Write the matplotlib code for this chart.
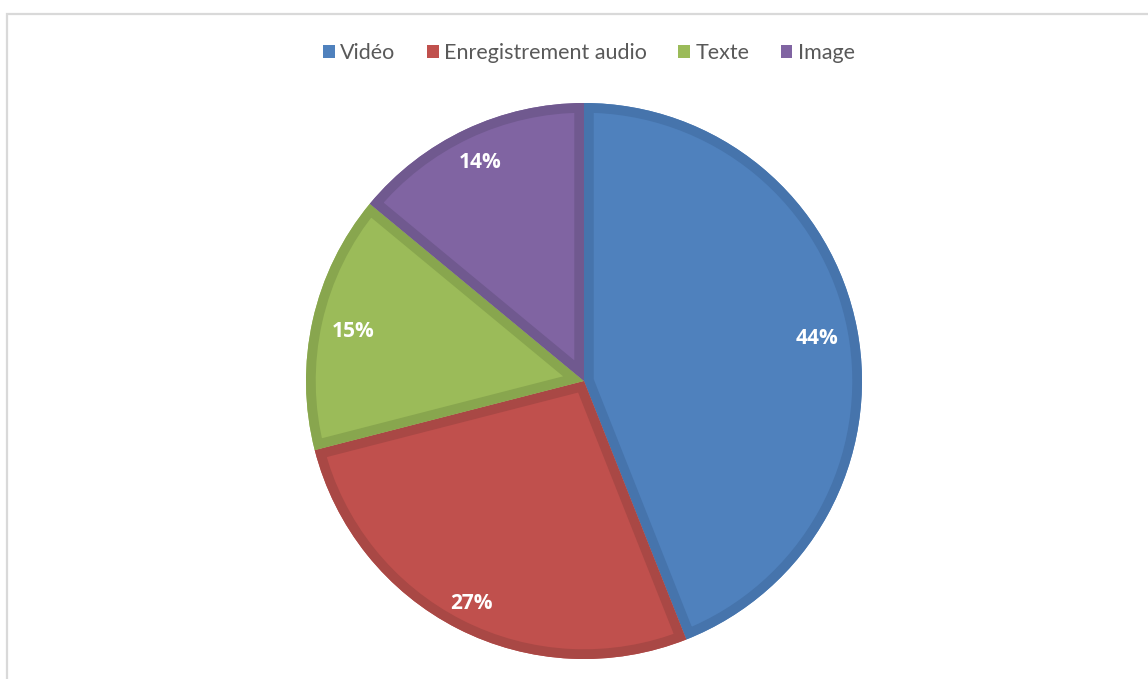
import numpy as np
import matplotlib.pyplot as plt
from matplotlib.patches import Rectangle, Wedge

# data
labels = ["Vidéo", "Enregistrement audio", "Texte", "Image"]
values = [44, 27, 15, 14]
fill_colors = ["#4F81BD", "#C0504D", "#9BBB59", "#8064A2"]
edge_colors = ["#4674AC", "#A94845", "#88A64E", "#70598F"]
label_dist = [0.855, 0.89, 0.85, 0.88]  # "inside end" placement, as in the source

W, H = 1148, 679
fig = plt.figure(figsize=(W / 100, H / 100), dpi=100)

# chart area border (light gray)
fig.patches.append(Rectangle((7 / W, -0.05), 1.1, 1 - 14 / H + 0.05, transform=fig.transFigure,
                             facecolor="none", edgecolor="#D9D9D9", linewidth=1.6))

# pie axes: centre (584, 381), radius 278 px
cx, cy, r = 584, 381, 278
ax = fig.add_axes([(cx - r) / W, (H - cy - r) / H, 2 * r / W, 2 * r / H])

wedges, texts, autotexts = ax.pie(values, colors=fill_colors, startangle=90, counterclock=False,
                                  radius=1, autopct="%1.0f%%", pctdistance=0.865,
                                  textprops=dict(color="white", fontsize=15, fontweight="bold",
                                                 family="Open Sans"))
ax.set_xlim(-1, 1)
ax.set_ylim(-1, 1)
ax.axis("off")

# move the percentage labels along each slice's middle angle
for w, t, d in zip(wedges, autotexts, label_dist):
    mid = np.deg2rad((w.theta1 + w.theta2) / 2)
    t.set_position((d * np.cos(mid), d * np.sin(mid)))
    t.set_va("center_baseline")

# darker inner border on each slice: stroke clipped to the slice itself
for w, ec in zip(wedges, edge_colors):
    border = Wedge(w.center, w.r, w.theta1, w.theta2, facecolor="none", edgecolor=ec,
                   linewidth=14, zorder=w.get_zorder() + 0.1)
    ax.add_patch(border)
    border.set_clip_path(w.get_path(), w.get_transform())

# legend at the top
handles = [Rectangle((0, 0), 1, 1, facecolor=c, edgecolor="none") for c in fill_colors]
fig.legend(handles, labels, loc="center", bbox_to_anchor=(589 / W, 1 - 53 / H), ncol=4,
           frameon=False, handlelength=0.55, handleheight=0.55, handletextpad=0.25, columnspacing=1.45,
           prop=dict(family="Lato", size=15.5), labelcolor="#595959")

plt.savefig("out.png", dpi=100)
